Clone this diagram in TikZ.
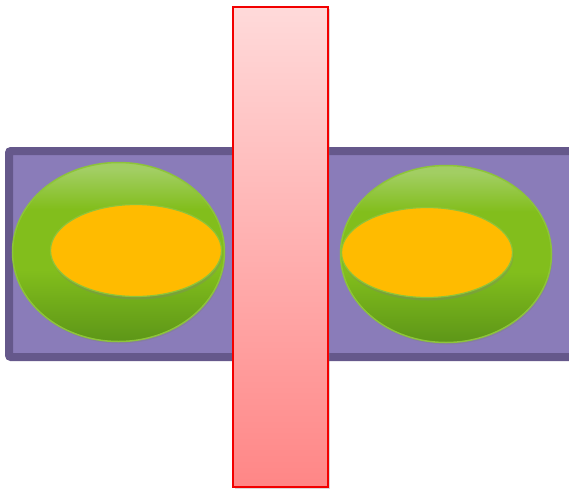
\documentclass[tikz,border=0pt]{standalone}
\usepackage{tikz}
\usetikzlibrary{shapes.geometric,shadows}
\definecolor{Band}{HTML}{8A7CB9}
\definecolor{BandEdge}{HTML}{65588B}
\definecolor{LeafTop}{HTML}{A2CE63}
\definecolor{LeafMid}{HTML}{82BE1C}
\definecolor{LeafLow}{HTML}{5D9618}
\definecolor{LeafEdge}{HTML}{8DC43A}
\definecolor{Yolk}{HTML}{FFBB00}
\definecolor{BarTop}{HTML}{FFDADA}
\definecolor{BarLow}{HTML}{FF8686}
\definecolor{BarEdge}{HTML}{F20000}
\pgfdeclareverticalshading{leafshade}{100bp}{%
  color(0bp)=(LeafLow); color(25bp)=(LeafLow); color(45bp)=(LeafMid);
  color(62bp)=(LeafMid); color(73bp)=(LeafTop); color(100bp)=(LeafTop)}

\begin{document}
\begin{tikzpicture}[
  x=1pt,y=-1pt,
  band/.style={
    draw=BandEdge,fill=Band,line width=8pt,rounded corners=2pt
  },
  outer/.style={
    ellipse,draw=LeafEdge,line width=1.5pt,inner sep=0pt,
    shading=leafshade,
    drop shadow={shadow xshift=1pt,shadow yshift=-2pt,opacity=0.4}
  },
  inner/.style={
    ellipse,draw=LeafEdge,line width=1.2pt,fill=Yolk,inner sep=0pt,
    drop shadow={shadow xshift=1pt,shadow yshift=-3pt,opacity=0.3}
  },
  bar/.style={
    draw=BarEdge,line width=2.5pt,top color=BarTop,bottom color=BarLow,
    inner sep=0pt,
    drop shadow={shadow xshift=1.5pt,shadow yshift=-1.5pt,opacity=0.3}
  }
]
  \useasboundingbox (0,0) rectangle (569,490);

  % purple band behind everything
  \draw[band] (9,151) rectangle (573,357);

  % left pair
  \node[outer,minimum width=212pt,minimum height=179pt] (leftouter) at (118.5,252) {};
  \node[inner,minimum width=171pt,minimum height=92pt] (leftinner) at (136,250.5) {};

  % right pair
  \node[outer,minimum width=211pt,minimum height=177pt] (rightouter) at (446,254) {};
  \node[inner,minimum width=171pt,minimum height=90pt] (rightinner) at (427,252.5) {};

  % red bar on top
  \node[bar,minimum width=95pt,minimum height=480pt] (redbar) at (280.5,247) {};
\end{tikzpicture}
\end{document}
